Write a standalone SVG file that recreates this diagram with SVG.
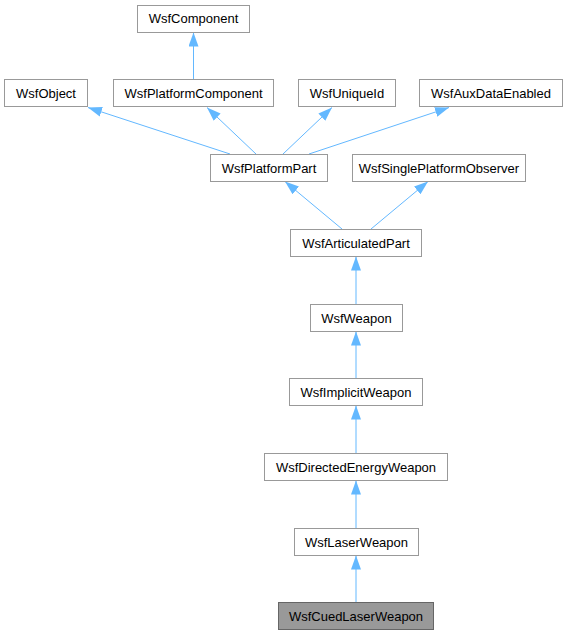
<svg xmlns="http://www.w3.org/2000/svg" width="568" height="635" viewBox="0 0 568 635">
<style>
.n rect{fill:#ffffff;stroke:#999999;stroke-width:1}
.n.h rect{fill:#999999;stroke:#666666}
.n text{font-family:"Liberation Sans",Arial,sans-serif;font-size:13px;fill:#000000;text-anchor:middle}
.e line{stroke:#63b8ff;stroke-width:1;marker-end:url(#a)}
</style>
<defs>
<marker id="a" markerWidth="14" markerHeight="10" refX="14" refY="5" orient="auto" markerUnits="userSpaceOnUse">
<path d="M0,0 L14,5 L0,10 z" fill="#63b8ff"/>
</marker>
</defs>
<rect width="568" height="635" fill="#ffffff"/>
<g id="edges" class="e">
<line x1="193.5" y1="79" x2="193.5" y2="32.5"/>
<line x1="230" y1="154" x2="88" y2="107.5"/>
<line x1="256" y1="154" x2="207" y2="107.5"/>
<line x1="283" y1="154" x2="332" y2="107.5"/>
<line x1="309" y1="154" x2="449" y2="107.5"/>
<line x1="342" y1="229" x2="285" y2="181.5"/>
<line x1="371" y1="229" x2="428" y2="181.5"/>
<line x1="356" y1="304" x2="356" y2="256.5"/>
<line x1="356" y1="378" x2="356" y2="331.5"/>
<line x1="356" y1="453" x2="356" y2="405.5"/>
<line x1="356" y1="528" x2="356" y2="480.5"/>
<line x1="356" y1="602" x2="356" y2="555.5"/>
</g>
<g id="WsfComponent" class="n"><rect x="137.5" y="5.5" width="112" height="27"/><text x="193.5" y="23">WsfComponent</text></g>
<g id="WsfObject" class="n"><rect x="4.5" y="79.5" width="83" height="27"/><text x="46" y="97.5">WsfObject</text></g>
<g id="WsfPlatformComponent" class="n"><rect x="113.5" y="79.5" width="160" height="27"/><text x="193.5" y="97.5">WsfPlatformComponent</text></g>
<g id="WsfUniqueId" class="n"><rect x="298.5" y="79.5" width="97" height="27"/><text x="347" y="97.5">WsfUniqueId</text></g>
<g id="WsfAuxDataEnabled" class="n"><rect x="419.5" y="79.5" width="143" height="27"/><text x="491" y="97.5">WsfAuxDataEnabled</text></g>
<g id="WsfPlatformPart" class="n"><rect x="210.5" y="154.5" width="117" height="27"/><text x="269" y="172.5">WsfPlatformPart</text></g>
<g id="WsfSinglePlatformObserver" class="n"><rect x="352.5" y="154.5" width="173" height="27"/><text x="439" y="172.5">WsfSinglePlatformObserver</text></g>
<g id="WsfArticulatedPart" class="n"><rect x="290.5" y="229.5" width="131" height="27"/><text x="356" y="247.5">WsfArticulatedPart</text></g>
<g id="WsfWeapon" class="n"><rect x="310.5" y="304.5" width="92" height="27"/><text x="356.5" y="322.5">WsfWeapon</text></g>
<g id="WsfImplicitWeapon" class="n"><rect x="289.5" y="378.5" width="133" height="27"/><text x="356" y="396.5">WsfImplicitWeapon</text></g>
<g id="WsfDirectedEnergyWeapon" class="n"><rect x="264.5" y="453.5" width="183" height="27"/><text x="356" y="471.5">WsfDirectedEnergyWeapon</text></g>
<g id="WsfLaserWeapon" class="n"><rect x="294.5" y="528.5" width="124" height="27"/><text x="356.5" y="546.5">WsfLaserWeapon</text></g>
<g id="WsfCuedLaserWeapon" class="n h"><rect x="278.5" y="602.5" width="155" height="27"/><text x="356" y="620.5">WsfCuedLaserWeapon</text></g>
</svg>
